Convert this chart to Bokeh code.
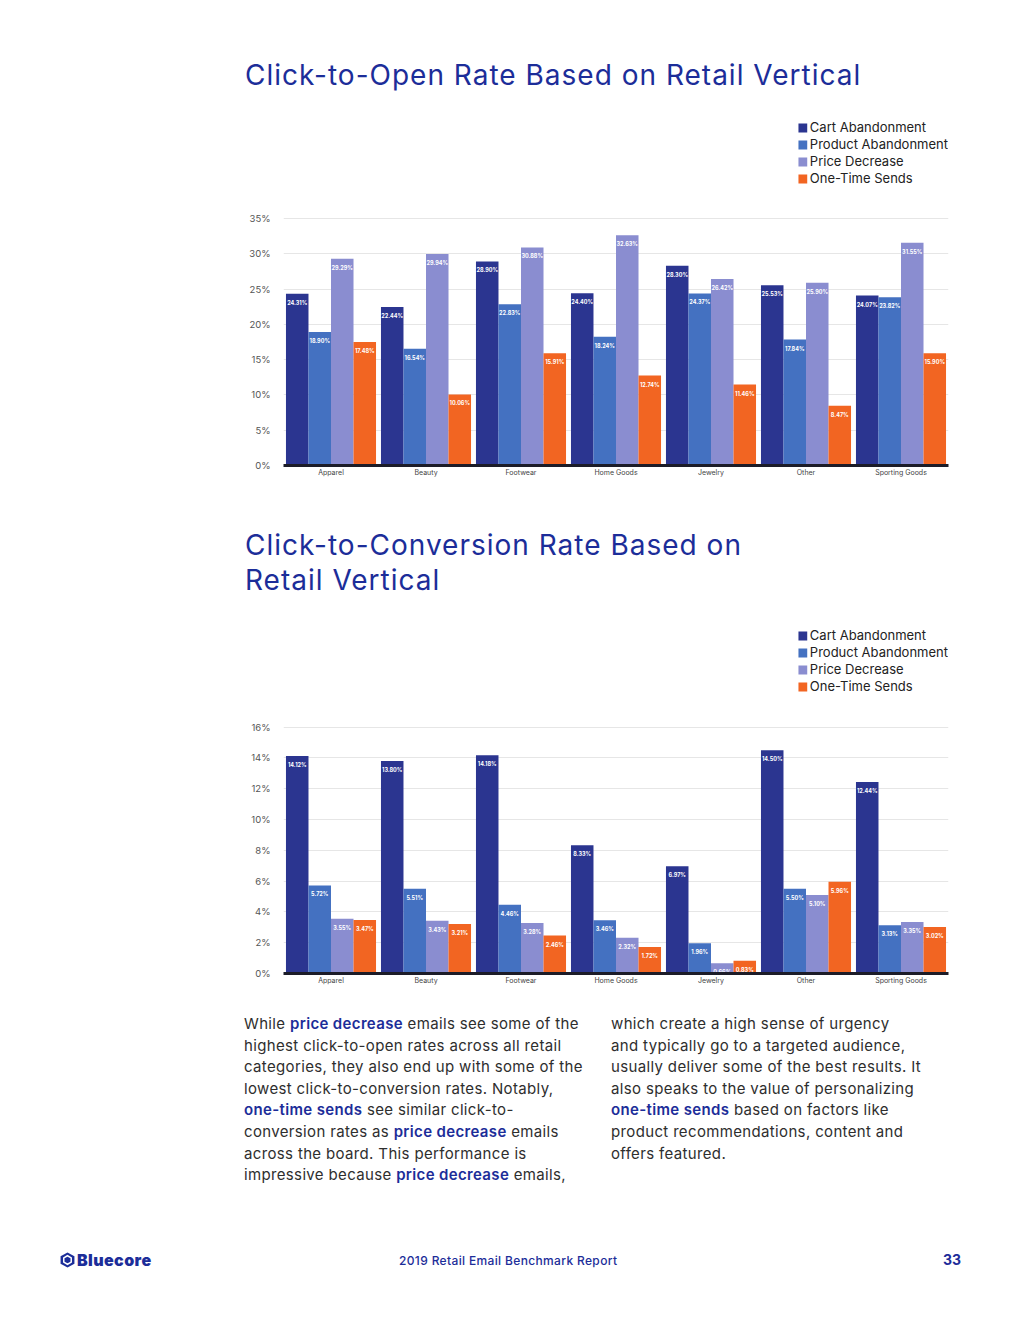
from bokeh.plotting import figure
from bokeh.models import FactorRange, Range1d, FixedTicker, PrintfTickFormatter, Div, ColumnDataSource
from bokeh.transform import dodge
from bokeh.layouts import column
from bokeh.embed import file_html
from bokeh.resources import INLINE
from bokeh.core.properties import value

categories = ["Apparel", "Beauty", "Footwear", "Home Goods", "Jewelry", "Other", "Sporting Goods"]
series = ["Cart Abandonment", "Product Abandonment", "Price Decrease", "One-Time Sends"]
colors = ["#2b3590", "#4471c1", "#8a8dd0", "#f26522"]

# Click-to-Open rate (%)
cto_cart = [24.31, 22.44, 28.90, 24.40, 28.30, 25.53, 24.07]
cto_product = [18.90, 16.54, 22.83, 18.24, 24.37, 17.84, 23.82]
cto_price = [29.29, 29.94, 30.88, 32.63, 26.42, 25.90, 31.55]
cto_onetime = [17.48, 10.06, 15.91, 12.74, 11.46, 8.47, 15.90]
cto_ticks = [0, 5, 10, 15, 20, 25, 30, 35]

# Click-to-Conversion rate (%)
ctc_cart = [14.12, 13.80, 14.18, 8.33, 6.97, 14.50, 12.44]
ctc_product = [5.72, 5.51, 4.46, 3.46, 1.96, 5.50, 3.13]
ctc_price = [3.55, 3.43, 3.28, 2.32, 0.66, 5.10, 3.35]
ctc_onetime = [3.47, 3.21, 2.46, 1.72, 0.83, 5.96, 3.02]
ctc_ticks = [0, 2, 4, 6, 8, 10, 12, 14, 16]

NAVY = "#1c2d99"
FONT = "Inter"
W = 1004


def make_chart(vals, ticks, px_per_unit, top_b, frame_h):
    data = {"cat": categories}
    for i, v in enumerate(vals):
        data["s%d" % i] = v
        data["l%d" % i] = ["%.2f%%" % x for x in v]
    src = ColumnDataSource(data)
    bot_b = 25
    p = figure(x_range=FactorRange(*categories, range_padding=0),
               y_range=Range1d(0, frame_h / px_per_unit),
               width=W, height=top_b + frame_h + bot_b,
               min_border_left=283, min_border_right=W - 948,
               min_border_top=top_b, min_border_bottom=bot_b,
               output_backend="svg", toolbar_location=None)
    bw = 0.237
    offs = [-1.5 * bw, -0.5 * bw, 0.5 * bw, 1.5 * bw]
    for i in range(4):
        p.vbar(x=dodge("cat", offs[i], range=p.x_range), top="s%d" % i, width=bw,
               fill_color=colors[i], line_color=None, source=src,
               legend_label=series[i])
    for i in range(4):
        p.text(x=dodge("cat", offs[i], range=p.x_range), y="s%d" % i, text="l%d" % i,
               text_align="center", text_baseline="top", y_offset=6,
               text_color="white", text_font_size="5.5px", text_font_style="bold",
               text_font=value(FONT), source=src)
    p.outline_line_color = None
    p.background_fill_color = "white"
    p.border_fill_color = "white"
    p.xgrid.grid_line_color = None
    p.ygrid.ticker = FixedTicker(ticks=ticks)
    p.ygrid.grid_line_color = "#e6e6e6"
    p.ygrid.grid_line_width = 1
    ya = p.yaxis[0]
    ya.ticker = FixedTicker(ticks=ticks)
    ya.formatter = PrintfTickFormatter(format="%d%%")
    ya.axis_line_color = None
    ya.major_tick_line_color = None
    ya.minor_tick_line_color = None
    ya.major_tick_out = 0
    ya.major_tick_in = 0
    ya.minor_tick_out = 0
    ya.major_label_standoff = 13
    ya.major_label_text_font_size = "9.5px"
    ya.major_label_text_color = "#555555"
    ya.major_label_text_font = FONT
    xa = p.xaxis[0]
    xa.axis_line_color = "#1c1c28"
    xa.axis_line_width = 3
    xa.major_tick_line_color = None
    xa.minor_tick_line_color = None
    xa.major_tick_out = 0
    xa.major_tick_in = 0
    xa.minor_tick_out = 0
    xa.major_label_standoff = 2
    xa.major_label_text_font_size = "7px"
    xa.major_label_text_color = "#444444"
    xa.major_label_text_font = FONT
    lg = p.legend[0]
    lg.location = "top_right"
    lg.margin = 0
    lg.padding = 0
    lg.spacing = 1
    lg.glyph_width = 11
    lg.glyph_height = 11
    lg.label_height = 11
    lg.label_standoff = 2
    lg.label_text_font = FONT
    lg.label_text_font_size = "13px"
    lg.label_text_color = "#222222"
    lg.border_line_color = None
    lg.background_fill_alpha = 0
    return p


def title_div(lines, height, first_top):
    spans = ""
    for k, ln in enumerate(lines):
        spans += ('<div style="position:absolute;left:245px;top:%dpx;white-space:nowrap;'
                  'font-family:Inter;font-size:28px;line-height:28px;letter-spacing:1px;color:%s;">%s</div>'
                  % (first_top + 35 * k, NAVY, ln))
    html = '<div style="position:relative;width:%dpx;height:%dpx;">%s</div>' % (W, height, spans)
    return Div(text=html, width=W, height=height, margin=0)


div1 = title_div(["Click-to-Open Rate Based on Retail Vertical"], 108, 61)
p1 = make_chart([cto_cart, cto_product, cto_price, cto_onetime], cto_ticks, 7.06, 11, 346)
div2 = title_div(["Click-to-Conversion Rate Based on", "Retail Vertical"], 127, 41)
p2 = make_chart([ctc_cart, ctc_product, ctc_price, ctc_onetime], ctc_ticks, 15.4, 10, 346)

B = '<span style="color:%s;font-weight:600;">' % NAVY
E = '</span>'
left_lines = [
    "While %sprice decrease%s emails see some of the" % (B, E),
    "highest click-to-open rates across all retail",
    "categories, they also end up with some of the",
    "lowest click-to-conversion rates. Notably,",
    "%sone-time sends%s see similar click-to-" % (B, E),
    "conversion rates as %sprice decrease%s emails" % (B, E),
    "across the board. This performance is",
    "impressive because %sprice decrease%s emails," % (B, E),
]
right_lines = [
    "which create a high sense of urgency",
    "and typically go to a targeted audience,",
    "usually deliver some of the best results. It",
    "also speaks to the value of personalizing",
    "%sone-time sends%s based on factors like" % (B, E),
    "product recommendations, content and",
    "offers featured.",
]
col_style = ('position:absolute;top:15px;white-space:nowrap;font-family:Inter;font-size:15px;'
             'letter-spacing:0.35px;line-height:21.6px;color:#2e2e2e;')
body_html = ('<div style="position:relative;width:%dpx;height:210px;">'
             '<div style="%sleft:244px;">%s</div>'
             '<div style="%sleft:611px;">%s</div></div>'
             % (W, col_style, "<br>".join(left_lines), col_style, "<br>".join(right_lines)))
div3 = Div(text=body_html, width=W, height=210, margin=0)

hexsvg = ('<svg width="15" height="16" viewBox="0 0 14 15" style="vertical-align:-2px;margin-right:2px;">'
          '<polygon points="7,0.5 13.5,4 13.5,11 7,14.5 0.5,11 0.5,4" fill="%s"/>'
          '<polygon points="7,3.5 10.5,5.5 10.5,9.5 7,11.5 3.5,9.5 3.5,5.5" fill="none" stroke="white" stroke-width="1.4"/>'
          '</svg>' % NAVY)
footer_html = ('<div style="position:relative;width:%dpx;height:96px;">'
               '<div style="position:absolute;left:60px;top:43px;white-space:nowrap;font-family:Inter;'
               'font-size:16px;line-height:18px;font-weight:900;letter-spacing:0.4px;color:%s;">%sBluecore</div>'
               '<div style="position:absolute;left:399px;top:45px;white-space:nowrap;font-family:Inter;'
               'font-size:12px;line-height:16px;font-weight:500;letter-spacing:0.35px;color:%s;">2019 Retail Email Benchmark Report</div>'
               '<div style="position:absolute;left:943px;top:43px;white-space:nowrap;font-family:Inter;'
               'font-size:14px;line-height:18px;font-weight:700;color:%s;">33</div>'
               '</div>' % (W, NAVY, hexsvg, NAVY, NAVY))
div4 = Div(text=footer_html, width=W, height=96, margin=0)

layout = column(div1, p1, div2, p2, div3, div4, spacing=0)
open("out.html", "w").write(file_html(layout, INLINE))
